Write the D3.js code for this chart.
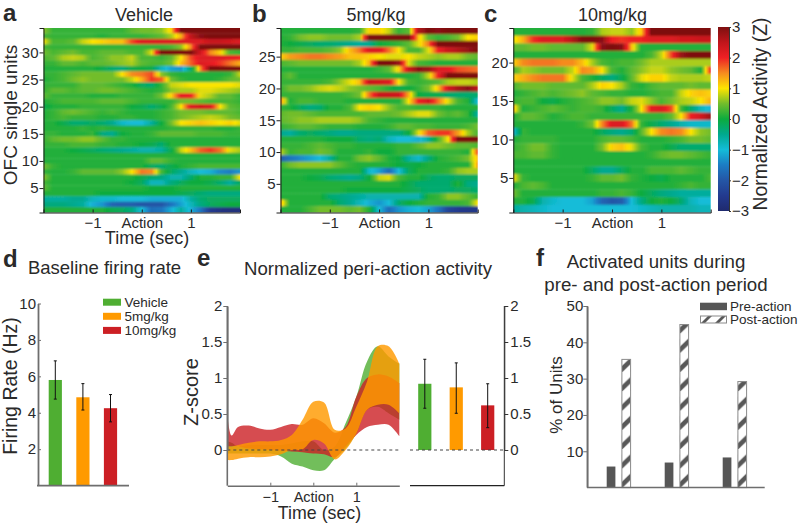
<!DOCTYPE html>
<html><head><meta charset="utf-8">
<script src="https://cdn.jsdelivr.net/npm/d3@7/dist/d3.min.js"></script>
<style>
html,body{margin:0;padding:0;background:#fff}
svg{display:block}
text{font-family:"Liberation Sans",Arial,sans-serif;fill:#2a2a2a}
</style></head><body>
<svg id="c" width="800" height="524"></svg>
<script>
// ---- Data ----
const heatTimes=[-2,-1.8,-1.6,-1.4,-1.2,-1,-0.8,-0.6,-0.4,-0.2,0,0.2,0.4,0.6,0.8,1,1.2,1.4,1.6,1.8,2];
// rows listed from the top unit down to unit 1
const vehicleRows=[
[0.6,0.2,0.2,0.2,0.2,0.2,0.2,0.2,0.2,0.4,0.5,0.5,0.6,1.1,3,3,3,3,3,3,3],
[0.3,0.2,0.2,0.2,0.2,0.2,0.1,0.2,0.2,0.2,0.2,0.3,0.4,0.7,1.3,2.5,2.9,3,3,3,3],
[1,0.3,0.3,0.4,0.8,1,1.1,1.2,1.2,1.8,2.2,2.2,2.2,2.2,2.2,2.2,2.2,2.4,2.4,2.3,2.2],
[0.3,0.2,0.2,0.2,0.2,0.2,0.2,0.2,0.2,0.2,0.2,0.2,0.2,0.3,0.6,1.5,3,3,3,3,3],
[0.5,0.3,0.4,0.5,0.3,0.3,0.4,0.4,0.4,0.3,0.3,0.9,3,3,3,3,2.3,1.5,1.1,0.3,0.2],
[0.3,0.4,0.7,0.8,0.7,0.3,0.4,0.6,0.6,0.8,0.3,0.3,0.2,0.4,1,1.8,2.2,2.2,2.2,2.1,2],
[0.2,0.2,0.4,0.4,0.3,0.4,0.4,0.5,0.6,0.7,0.4,0.3,0.3,0.5,1.2,1.7,2.2,2.1,1.9,1.6,1.3],
[0.1,0.1,0.1,0.1,0.1,0.1,-0.1,-0.3,-0.4,-0.1,0,-0.1,-0.8,-1.2,-1.3,-0.3,1.5,3,3,3,3],
[0.2,0.2,0.3,0.4,0.5,0.5,0.5,0.5,1,1.5,1.6,1.8,0.6,0.2,0.1,0.1,0.1,0.1,0.1,0.2,0.8],
[0.1,0.2,0.3,0.5,0.6,0.5,0.5,0.5,0.5,0.8,1.3,1.9,1.7,0.5,0.2,0.1,0.1,0.1,0.2,0.4,0.5],
[0.2,0.2,0.2,0.2,0.4,0.4,0.4,0.3,0.2,0.1,-0.2,-0.3,0.2,0.8,0.9,1,1,1,1,1,0.9],
[0.2,0.4,0.4,0.3,0.4,0.4,0.5,0.5,0.4,0.3,0.2,0.1,0.2,0.6,0.7,0.7,0.9,0.9,0.8,0.7,0.6],
[0.4,0.2,0.2,0.2,0.2,0.1,0.1,0.1,0.2,0.2,0.2,0.2,0.5,1.1,2.1,2,0.9,0.7,0.4,0.4,0.2],
[0.1,0.2,0.3,0.3,0.3,0.3,0.4,0.4,0.4,0.3,0.2,0.2,0.2,0.2,0.5,0.5,0.4,0.3,0.3,0.3,0.2],
[-0.1,0.1,0.1,0.1,0.2,0.2,0.2,0.2,0.2,0,-0.1,-0.3,-0.1,0.3,1,2.2,2.3,2.2,1,0.4,0.3],
[0.1,0.2,0.4,0.5,0.4,0.3,0.2,0.3,0.2,0.1,0.1,0.1,0.2,0.3,0.5,0.5,0.5,0.4,0.4,0.4,0.3],
[0.1,0.2,0.3,0.2,0.2,0.2,0.1,0.1,0.2,0.2,0.1,0.1,0.2,0.3,0.5,0.6,0.7,0.8,0.7,0.5,0.4],
[0.1,0.1,-0.1,-0.3,-0.3,-0.2,-0.3,-0.5,-0.9,-1,-1,-0.6,0,0.5,1,1.1,1.2,1.1,1,1.1,0.9],
[0.1,0.1,0.1,0.1,0.2,0.1,0.2,0.1,0.1,0.1,0.1,0.1,0.1,0.2,0.2,0.2,0.2,0.2,0.1,0.1,0.2],
[0.2,0.2,0.1,0.1,0.1,0.2,-0.4,-0.5,0,0.1,0.1,0.2,0.4,0.4,0.4,0.4,0.3,0.3,0.3,0.2,0.2],
[0.2,0.4,0.5,0.5,0.6,0.6,0.4,0.2,0.2,0.1,0.1,0.1,0.1,0.1,0.1,0.1,0.1,0.1,0.1,0.1,0.1],
[0.2,0.2,0.2,0.3,0.3,0.3,0.2,0.2,0.1,0.1,0,-0.1,-0.3,0.1,0.1,0.1,0.1,0.1,0.1,0.1,0.1],
[0.1,0.1,0.1,0,-0.1,-0.2,-0.3,-0.4,-0.5,-0.6,-0.7,-0.7,-0.6,-0.1,0.8,1.2,1.7,1.9,1.6,0.9,0.7],
[0.1,0.1,0.1,0.1,0.1,0.1,0.1,0.1,0.1,0.1,0.1,0.1,0.1,0.1,0.1,0.1,0.1,0.1,0.1,0.1,0.1],
[0.1,0.1,0.1,0.1,0.1,0.1,0.1,0.1,0.1,0.1,0.1,0.4,0.4,0.2,0.1,0.1,0.1,0.1,0.1,0.1,0.1],
[0.5,0.2,0.1,0.1,0.1,0.1,0.1,0.1,0.1,0.1,0.1,-0.2,-0.3,-0.1,0.1,0.2,0.3,0.3,0.3,0.3,0.3],
[0.2,0.1,0.1,0.2,0.4,0.4,0.4,0.4,0.6,1,1.6,1.5,0.3,-0.2,-0.5,-0.8,-1,-1.1,-1.4,-1.5,-1.3],
[0.6,0.1,0.1,0.1,0.1,0.1,0.1,0.1,0.1,0.1,-0.1,-0.3,-0.4,-0.7,-0.7,-0.3,0.1,0.1,0.2,0.2,1],
[0.3,0.1,0.1,0.1,0.1,0.1,0.1,0.1,0.1,0,-0.2,-0.8,-0.8,-0.4,-0.2,0,0,-0.1,-0.3,-0.6,-0.2],
[0.4,0.1,0.1,0.1,0.1,0.1,0.1,0.1,0.1,0.1,0.1,0,0,0,0.1,0.1,0.1,0.1,0.1,0.1,0.1],
[0.1,0.1,0.1,0.1,0.1,0.1,0,0,0,0,0,0,0,0,-0.1,-0.2,-0.3,-0.4,-0.4,-0.4,-0.4],
[-0.6,-0.6,-0.6,-0.5,-0.5,-0.8,-0.9,-0.9,-1,-1,-1,-1.1,-1.1,-1.1,-1.1,-0.6,-0.3,-0.2,-0.2,-0.2,-0.2],
[-0.4,-0.4,-0.4,-0.5,-0.6,-1.1,-1.3,-1.8,-1.9,-1.9,-2,-2,-2,-1.6,-1.2,-0.8,-0.4,-0.2,-0.1,0,0],
[0.1,0.1,0.1,0.1,0.1,0.1,0.1,-0.1,-0.2,-0.4,-1,-1.7,-1.6,-1.1,-0.6,-1.1,-1.6,-2.5,-2.7,-2.8,-2.8]
];
const lowDoseRows=[
[0.1,0.1,0.1,0.1,0.1,0.1,0.1,0.1,0.2,1.1,1.1,0.8,0.2,0.4,2.6,3,2.9,3,3,3,3],
[0.1,0.2,0.5,0.6,0.6,0.5,0.5,0.5,0.7,3,3,3,3,3,1.2,0.4,0.2,0.3,0.5,1,1.1],
[0.1,0,-0.1,-0.2,-0.3,-0.3,-0.4,-0.5,-0.6,-0.5,0,0.1,0.2,0.4,0.9,1.6,3,3,3,3,3],
[0.2,0.2,0.3,0.3,0.3,0.4,0.6,1.2,1.6,2.2,2.2,1.6,1,0.3,0.3,0.9,2,2.4,2.6,2.8,3],
[1.1,1.4,1.5,1.6,1.6,1.5,1.4,1.2,1.2,1.1,1,0.9,0.9,1,0.8,0.7,0.6,0.7,0.7,0.5,0.4],
[0.3,0.4,0.5,0.5,0.5,0.5,0.5,0.5,0.7,1.3,3,3,2.8,0.9,0.3,0.2,0.1,0.1,0.1,0.1,0.1],
[0.1,0.1,0.1,0.1,0.1,0.1,0.1,0.1,0.1,0.1,0.2,0.4,1.1,2.4,2.9,2.8,2.2,2.1,1.8,1.7,1.6],
[0.2,0.4,0.1,0.1,0.1,0.1,0.1,0.1,0.1,0.1,0.1,0.1,0.1,0.1,0.2,0.8,2,3,3,3,3],
[0.2,0.2,0.2,0.2,0.2,0.3,0.6,0.9,1.2,2.4,2.3,2.2,1,0.3,0.2,0.3,0.4,0.7,0.8,0.8,0.7],
[0.2,0.5,0.5,0.6,0.8,0.9,0.8,0.6,0.5,0.4,0.3,0.1,-0.1,0,0.2,0.5,1.2,2.3,2.7,2.9,2.5],
[0.2,0.2,0.2,0.2,0.2,0.2,0.2,0.3,0.5,1.6,2.4,2.4,2.3,1.3,0,-0.1,-0.1,-0.3,-0.3,-0.3,-0.3],
[1.5,0.1,0.3,0.3,0.2,0.2,0.2,0.1,0.1,0.1,0.1,0.1,0.1,1,2,2.3,1.6,0.9,0.3,0.1,-1],
[0.2,0.1,-0.2,-0.4,-0.3,0.1,0.1,0.3,1,1.1,1,0.6,0.3,0.3,0.2,0.2,0.2,0.1,0.1,0.1,0.1],
[0.4,0.5,0.5,0.4,0.3,0.3,0.3,0.3,0.3,0.4,0.4,0.4,0.5,0.7,0.9,0.9,0.5,0.3,0.4,0.2,-0.6],
[0.4,0.5,0.6,0.6,0.7,0.7,0.7,0.7,0.6,0.3,0.2,0.1,0.1,0.1,0.1,0.1,0.1,0.1,0.1,0.1,0.1],
[0.2,0.3,0.4,0.4,0.3,0.2,0.2,0.2,0.1,0.1,0.1,0.2,0.4,0.4,0.3,0.3,0.2,0.2,0.2,0.3,0.5],
[-0.5,-0.6,-0.3,-0.2,-0.3,-0.4,-0.5,-0.5,-0.4,-0.4,-0.4,-0.4,-0.4,0,0.9,1.7,1.9,1.9,1.4,0.7,0.3],
[0.1,0.1,0.1,0.1,0.1,0,0,0,-0.3,-0.4,-0.3,-0.8,-1,-1,-1.1,-0.6,0.3,1,3,3,3],
[0.2,0.2,0.2,0.3,0.4,0.3,0.2,0.2,0.1,0.1,0.1,0.1,0.2,0.2,0.4,0.6,0.6,0.5,0.4,0.4,0.3],
[0.8,0.2,0.3,0.3,0.5,0.4,0.1,0.1,0.1,0.2,0,0,0.2,0.2,0.2,0.2,0.2,0.2,0.2,0.1,1.8],
[-1.9,-1.6,-1.4,-1.2,-1,-0.6,0.1,0.1,0.5,0.6,0.4,0.1,0,-0.6,-0.9,-0.4,0.1,0.2,0.3,0.5,1.2],
[0.2,0.5,0.6,0.6,0.6,0.6,0.4,0.2,0.1,0.1,0.1,0.1,0,-0.1,0,0.1,0.1,0.1,0.1,0.1,1.4],
[0.1,0.1,0.1,0.1,0.1,0.1,0.1,0.1,0.1,-0.9,-1.2,-1.7,-1,-0.2,0.1,0.1,0.1,0.2,0.6,0.7,0.7],
[0.1,0.1,0.1,0,-0.1,-0.3,-0.4,-0.5,-0.4,0,0.8,0.9,0.3,0.1,0.1,-0.2,-0.3,-0.3,-0.2,-0.2,-0.2],
[0.1,0.1,0.1,0.1,0.1,0.1,0.1,0.1,0.1,0.1,0.1,0.1,0.1,-0.1,-0.3,-0.3,-0.3,-0.3,0.1,-0.4,-0.5],
[0.1,0.1,0.1,0.1,0.1,0.1,0.1,0,0,0,0,0,0,-0.1,-0.2,-0.3,-0.3,-0.3,-0.2,-0.2,-0.3],
[0.1,0.1,0.1,0.1,0.1,-0.3,-0.4,-0.5,-0.6,-0.7,-0.7,-0.7,-0.7,-0.7,-0.7,0.1,0.2,0.6,0.6,0.4,0.2],
[1.3,0.1,0.1,0.1,0.1,0.1,-0.3,-0.5,-0.8,-1.1,-1.3,-1,-0.3,0,0.1,0.2,0.2,0.2,0.2,0.3,1],
[0.1,0.1,0.1,0.3,0.5,0.5,0.5,0.4,0.5,0.1,-1,-1.7,-1.3,-1.1,-1,-1.2,-1.6,-2.3,-2.5,-2.6,-2.6]
];
const highDoseRows=[
[0.1,0.1,0.1,0.1,0.1,0.1,0.1,0.1,0.2,0.7,0.8,0.8,0.6,1.2,3,3,3,3,3,3,3],
[0.9,1.3,1.9,2.2,2.2,2.2,2.6,3,3,2.9,2,1.9,2,2,2.2,2.2,2.2,2.3,2.3,2.4,2.4],
[0.4,0.4,0.5,0.5,0.4,0.4,0.4,0.4,0.9,2.9,3,2.9,1.2,0.1,0.1,0.1,0.1,0.1,0.1,0.1,0.1],
[0.1,0.1,0.1,0.1,0.1,0.1,0.1,0.1,0.1,0.1,0.1,0.1,0.1,0.1,0.3,0.8,1.8,2.8,3,3,3],
[1.1,1.5,1.6,1.6,1.6,1.5,1.5,1.2,0.7,0.3,0.2,0.3,0.3,0.5,0.7,0.7,0.7,0.7,0.7,0.7,0.7],
[0.3,0.7,0.6,0.5,0.5,0.5,0.8,1.5,1.4,1,0.3,0.1,0.4,0.6,0.8,0.8,0.6,0.5,0.4,0.1,2],
[1.1,1.3,1.5,1.6,1.6,1.6,0.9,0.3,0.1,-0.2,-0.4,-0.1,0.4,0.9,1.1,1.1,0.8,0.7,0.7,0.7,0.8],
[0.3,0.5,0.5,0.5,0.4,0.4,0.4,0.4,0.7,1.1,1,0.7,0.2,0.1,0.3,0.4,0.4,0.4,0.5,0.4,0.4],
[0.1,0.2,0.3,0.4,0.3,0.4,0.5,0.6,0.4,0.3,0.2,0.2,0.1,0.1,0.2,0.3,0.3,0.8,1.1,1.2,1.1],
[0.2,0.3,0.3,0,-0.1,0.1,0.2,0.3,0.4,0.6,0.6,0.5,0.8,0.9,0.6,0.3,0.5,0.7,0.8,1,1.3],
[1.2,0.1,0.2,0.3,0.4,0.3,0.2,0.3,0.3,0.2,-0.2,-0.5,0.1,1,2.1,2.2,1.8,0.3,-0.3,-0.8,-1.1],
[0.1,0.4,0.4,0.3,0.1,0.2,0.3,0.3,0.2,0.2,0.2,0.2,0.2,0.2,0.2,0.2,0.4,1,2,2.3,2.8],
[0.1,0.1,0.1,0.1,0.1,0.1,0.1,0.2,0.5,1.5,2.2,2.2,1.6,0.2,-0.1,-0.3,-0.5,-0.7,-0.9,-0.9,-0.9],
[-1,0.2,0.1,0.1,0.1,0.1,0.1,0.1,0.1,-0.2,-0.4,-0.5,-0.3,0.4,1,1.5,1.6,1.5,1,0.6,0.5],
[0.1,0.2,0.2,0.2,0.2,0.1,0.1,0.1,0.1,0.3,0.4,0.4,0.3,0.1,0.1,0.1,0.2,0.3,0.5,0.5,0.4],
[0.2,0.3,0.5,0.5,0.2,0.1,0.1,0.1,0.1,0.5,1.1,1.2,0.9,0.3,0.1,0.1,-0.1,-0.3,-0.3,-0.3,-0.3],
[0.3,0.3,0.4,0.4,0.2,0.1,0.1,0.1,0.1,0.1,0.1,0.1,0.1,0.1,0.2,0.4,0.5,0.5,0.4,0.3,0.2],
[0.1,0.1,0.1,0.1,0.1,0.1,0.1,0.1,0.1,0.1,0.1,0.1,0.1,0.1,0.1,0.1,0.1,0.1,0.1,0.1,0.1],
[0.1,0.1,0.1,0.1,0.1,0.1,0.1,0.1,-0.2,-0.5,-0.5,-0.2,0.1,0.1,0.3,0.3,0.3,0.4,0.3,0.2,0.2],
[1,0.2,0.1,0.1,0.1,0.1,0.1,0.1,0.2,0.4,0.4,0.5,0.2,0.1,0,-0.1,0.1,0.1,0.1,0.1,0.3],
[0.1,0.3,0.4,0.3,0.1,0.1,0.1,0.1,0.1,0.1,0.1,0.1,0.1,0.1,0.1,0.1,0.1,0.2,0.3,0.2,0.2],
[0.5,0.1,0.1,0.1,0.1,0.1,0.1,0.1,0.1,0.2,0.2,0.3,0.2,0,-0.2,-0.4,-0.5,-0.6,-0.6,-0.6,-0.6],
[0.1,0.1,-0.1,-0.7,-0.9,-1,-1,-1,-1.2,-1.8,-2,-1.9,-1,-0.4,0,0.1,0,-0.3,-0.8,-1,-1],
[-0.6,-0.7,-0.8,-0.9,-1,-1,-1,-1,-1,-1,-1,-1,-1,-0.9,-0.8,-0.7,-0.7,-0.7,-0.7,-0.8,-0.8]
];
const colorStops=[-3,-2.5,-2,-1.5,-1,-0.5,0,0.5,1,1.5,2,2.5,3];
const colorValues=["#1f2a6e","#233a8f","#2456a6","#1c7cc4","#14bcd8","#00a98e","#0cab3e","#72bd2c","#fde400","#f68b1f","#ee2024","#c0151b","#7d1010"];
const groupNames=["Vehicle","5mg/kg","10mg/kg"];
const groupColors=["#4fae32","#ff9a00","#cc1f24"];
const firingRate=[5.8,4.85,4.25];
const firingHigh=[6.85,5.6,5.0];
const firingLow=[4.75,4.15,3.5];
const bandTimes=[-2,-1.9,-1.75,-1.5,-1.25,-1,-0.75,-0.5,-0.25,0,0.25,0.5,0.75,1,1.25,1.5,1.75,2];
const greenUpper=[0.12,0.1,0.05,0.07,0.07,0.07,0.07,0.09,0.12,0.12,0,0.05,0.37,0.74,1.23,1.44,1.30,1.20];
const greenLower=[-0.05,-0.05,-0.05,-0.05,-0.05,-0.05,-0.09,-0.19,-0.23,-0.28,-0.28,-0.12,0.02,0.23,0.56,0.6,0.51,0.42];
const redUpper=[0.5,0.2,0.32,0.34,0.30,0.28,0.32,0.36,0.35,0.44,0.37,0.24,0.32,0.74,1.0,1.05,1.02,0.93];
const redLower=[0.05,0.05,0.05,0.02,0.01,0,-0.01,-0.02,-0.03,-0.05,-0.06,-0.10,0.05,0.21,0.32,0.35,0.35,0.19];
const orangeUpper=[0.05,0.05,0.07,0.10,0.12,0.12,0.14,0.21,0.42,0.67,0.66,0.28,0.30,0.60,0.95,1.44,1.44,1.20];
const orangeLower=[-0.14,-0.14,-0.12,-0.10,-0.10,-0.09,-0.06,0,0.01,0.14,0.09,-0.13,0,0.23,0.56,0.63,0.63,0.51];
const periAction=[0.92,0.87,0.62];
const periHigh=[1.26,1.21,0.92];
const periLow=[0.58,0.51,0.31];
const unitGroups=["Vehicle","5mg/kg","10mg/kg"];
const preAction=[5.8,6.9,8.3];
const postAction=[35.3,44.9,29.2];

// ---- Drawing ----
const svg=d3.select("#c");
const defs=svg.append("defs");
const MINUS="\u2212";
const INK="#2a2a2a", GREY="#6e6e6e";
const colorScale=d3.scaleLinear().domain(colorStops).range(colorValues).clamp(true);
const txt=(x,y,s,size,opts={})=>{
  const t=svg.append("text").attr("x",x).attr("y",y).attr("font-size",size).text(s);
  if(opts.anchor)t.attr("text-anchor",opts.anchor);
  if(opts.weight)t.attr("font-weight",opts.weight);
  if(opts.rot!==undefined)t.attr("transform",`rotate(${opts.rot} ${x} ${y})`);
  return t;
};
const fmtTime=d=>d===0?"Action":String(d).replace("-",MINUS);

defs.append("filter").attr("id","soft").attr("x","-2%").attr("y","-2%").attr("width","104%").attr("height","104%")
  .append("feGaussianBlur").attr("stdDeviation","0.6 0.9");

function heatmap(id,rows,x0,x1,y0,y1,yTicks){
  const n=rows.length;
  const x=d3.scaleLinear().domain([-2,2]).range([x0,x1]);
  const y=d3.scaleLinear().domain([0.5,n+0.5]).range([y1,y0]);
  const clip="clip"+id;
  defs.append("clipPath").attr("id",clip).append("rect").attr("x",x0).attr("y",y0).attr("width",x1-x0).attr("height",y1-y0);
  const g=svg.append("g").attr("clip-path",`url(#${clip})`).append("g").attr("filter","url(#soft)");
  rows.forEach((vals,i)=>{
    const unit=n-i;
    const rowScale=d3.scaleLinear().domain(heatTimes).range(vals);
    const grad=defs.append("linearGradient").attr("id",`${id}r${unit}`).attr("gradientUnits","userSpaceOnUse")
      .attr("x1",x0).attr("x2",x1).attr("y1",0).attr("y2",0);
    d3.range(0,81).forEach(k=>{
      const f=k/80, t=x.invert(x0+f*(x1-x0));
      grad.append("stop").attr("offset",f).attr("stop-color",colorScale(rowScale(t)));
    });
    g.append("rect").attr("x",x0-3).attr("width",x1-x0+6)
      .attr("y",y(unit+0.5)-(i===0?3:0)).attr("height",y(unit-0.5)-y(unit+0.5)+0.3+(i===0||i===n-1?3:0))
      .attr("fill",`url(#${id}r${unit})`);
  });
  const ax=svg.append("g").attr("transform",`translate(0,${y1})`)
    .call(d3.axisBottom(x).tickValues([-1,0,1]).tickSize(-3).tickPadding(7).tickFormat(fmtTime));
  const ay=svg.append("g").attr("transform",`translate(${x0},0)`)
    .call(d3.axisLeft(y).tickValues(yTicks).tickSize(4).tickPadding(1));
  [ax,ay].forEach(a=>{
    a.select(".domain").attr("stroke","#1c1c1c").attr("stroke-width",1);
    a.selectAll(".tick line").attr("stroke","#1c1c1c");
    a.selectAll("text").attr("font-size",15).attr("font-family",'"Liberation Sans"').attr("fill",INK);
  });
  ax.selectAll("text").attr("y",4.5);
}
heatmap("a",vehicleRows,43.5,240,28,212.5,[5,10,15,20,25,30]);
heatmap("b",lowDoseRows,280.5,477.7,28,212.5,[5,10,15,20,25]);
heatmap("c",highDoseRows,513.3,710.7,28,212.5,[5,10,15,20]);

// colorbar
{
  const y=d3.scaleLinear().domain([-3,3]).range([211,27]);
  const grad=defs.append("linearGradient").attr("id","cb").attr("x1",0).attr("x2",0).attr("y1",1).attr("y2",0);
  colorStops.forEach((v,i)=>grad.append("stop").attr("offset",i/(colorStops.length-1)).attr("stop-color",colorScale(v)));
  svg.append("rect").attr("x",718).attr("y",27).attr("width",11).attr("height",184).attr("fill","url(#cb)");
  const a=svg.append("g").attr("transform","translate(729,0)")
    .call(d3.axisRight(y).tickValues([-3,-2,-1,0,1,2,3]).tickSize(2).tickPadding(1).tickFormat(d=>String(d).replace("-",MINUS)));
  a.select(".domain").attr("stroke","#333");
  a.selectAll(".tick line").attr("stroke","#333");
  a.selectAll("text").attr("font-size",15).attr("font-family",'"Liberation Sans"').attr("fill",INK);
}

// panel titles & labels
txt(3,21,"a",24,{weight:"bold"});
txt(252,22,"b",24,{weight:"bold"});
txt(484,22,"c",24,{weight:"bold"});
txt(3,267,"d",24,{weight:"bold"});
txt(197,266,"e",24,{weight:"bold"});
txt(536,266,"f",24,{weight:"bold"});
txt(144,20.5,"Vehicle",18,{anchor:"middle"});
txt(376,20.5,"5mg/kg",18,{anchor:"middle"});
txt(612.5,20.5,"10mg/kg",18,{anchor:"middle"});
txt(147,244,"Time (sec)",18,{anchor:"middle"});
txt(16.5,115,"OFC single units",19,{anchor:"middle",rot:-90});
txt(767,114,"Normalized Activity (Z)",19.3,{anchor:"middle",rot:-90});
txt(104.5,274,"Baseline firing rate",18.5,{anchor:"middle"});
txt(368,275,"Normalized peri-action activity",18.6,{anchor:"middle"});
txt(656,268,"Activated units during",18.7,{anchor:"middle"});
txt(656,291,"pre- and post-action period",18.7,{anchor:"middle"});
txt(17,386,"Firing Rate (Hz)",19.5,{anchor:"middle",rot:-90});
txt(198,392,"Z-score",20,{anchor:"middle",rot:-90});
txt(319.5,519,"Time (sec)",17.8,{anchor:"middle"});
txt(561.5,395,"% of Units",17,{anchor:"middle",rot:-90});

function styleAxis(a,color,w,size){
  a.select(".domain").attr("stroke",color).attr("stroke-width",w);
  a.selectAll(".tick line").attr("stroke",color).attr("stroke-width",1);
  a.selectAll("text").attr("font-size",size).attr("font-family",'"Liberation Sans"').attr("fill",INK);
}

// panel d
{
  const y=d3.scaleLinear().domain([0,10]).range([485.6,303.5]);
  const x=d3.scalePoint().domain(groupNames).range([55.3,110.5]);
  groupNames.forEach((g,i)=>{
    const px=x(g);
    svg.append("rect").attr("x",px-6.6).attr("width",13.2).attr("y",y(firingRate[i])).attr("height",y(0)-y(firingRate[i])).attr("fill",groupColors[i]);
    svg.append("line").attr("x1",px).attr("x2",px).attr("y1",y(firingHigh[i])).attr("y2",y(firingLow[i])).attr("stroke","#111");
    [firingHigh[i],firingLow[i]].forEach(v=>svg.append("line").attr("x1",px-1.5).attr("x2",px+1.5).attr("y1",y(v)).attr("y2",y(v)).attr("stroke","#111"));
    svg.append("rect").attr("x",103).attr("y",298.7+14.1*i).attr("width",18).attr("height",7).attr("fill",groupColors[i]);
    txt(124.5,307+14*i,g,13.5);
  });
  const a=svg.append("g").attr("transform","translate(38,0)")
    .call(d3.axisLeft(y).tickValues([2,4,6,8,10]).tickSize(-3).tickPadding(2).tickSizeOuter(0));
  styleAxis(a,GREY,1.8,15);
  svg.append("line").attr("x1",37).attr("x2",129).attr("y1",y(0)).attr("y2",y(0)).attr("stroke",GREY).attr("stroke-width",1.6);
}

// panel e
{
  const y=d3.scaleLinear().domain([0,2]).range([450,306]);
  const x=d3.scaleLinear().domain([-2,2]).range([227.3,399.3]);
  const yBottom=485.7;
  const series=[[greenUpper,greenLower,groupColors[0],0.8],[redUpper,redLower,groupColors[2],0.8],[orangeUpper,orangeLower,groupColors[1],0.82]];
  const area=(u,l)=>d3.area().x((d,i)=>x(bandTimes[i])).y0((d,i)=>y(l[i])).y1((d,i)=>y(u[i])).curve(d3.curveCatmullRom.alpha(0.5))(bandTimes);
  series.forEach(([u,l,c,o])=>svg.append("path").attr("d",area(u,l)).attr("fill",c).attr("fill-opacity",o));
  svg.append("line").attr("x1",x(-2)).attr("x2",x(2)).attr("y1",y(0)).attr("y2",y(0)).attr("stroke","#444").attr("stroke-width",1).attr("stroke-dasharray","3 3");
  const la=svg.append("g").attr("transform","translate(227.3,0)")
    .call(d3.axisLeft(y).tickValues([0,0.5,1,1.5,2]).tickSize(4).tickPadding(1).tickSizeOuter(0).tickFormat(d3.format("~g")));
  styleAxis(la,GREY,1.6,15);
  svg.append("line").attr("x1",227.3).attr("x2",227.3).attr("y1",306).attr("y2",yBottom).attr("stroke",GREY).attr("stroke-width",1.6);
  const ba=svg.append("g").attr("transform",`translate(0,${yBottom})`)
    .call(d3.axisBottom(x).tickValues([-1,0,1]).tickSize(-3).tickPadding(5).tickSizeOuter(0).tickFormat(fmtTime));
  styleAxis(ba,GREY,1.6,14.5);
  ba.selectAll("text").attr("y",5.7);

  const bx=d3.scalePoint().domain(groupNames).range([424.8,487.7]);
  svg.append("line").attr("x1",410).attr("x2",504.3).attr("y1",yBottom).attr("y2",yBottom).attr("stroke","#222").attr("stroke-width",1.2);
  groupNames.forEach((g,i)=>{
    const px=bx(g);
    svg.append("rect").attr("x",px-6.6).attr("width",13.2).attr("y",y(periAction[i])).attr("height",y(0)-y(periAction[i])).attr("fill",groupColors[i]);
    svg.append("line").attr("x1",px).attr("x2",px).attr("y1",y(periHigh[i])).attr("y2",y(periLow[i])).attr("stroke","#111");
    [periHigh[i],periLow[i]].forEach(v=>svg.append("line").attr("x1",px-1.5).attr("x2",px+1.5).attr("y1",y(v)).attr("y2",y(v)).attr("stroke","#111"));
  });
  svg.append("line").attr("x1",410).attr("x2",504).attr("y1",y(0)).attr("y2",y(0)).attr("stroke","#444").attr("stroke-width",1).attr("stroke-dasharray","3 3");
  const ra=svg.append("g").attr("transform","translate(504.3,0)")
    .call(d3.axisRight(y).tickValues([0,0.5,1,1.5,2]).tickSize(4).tickPadding(2).tickSizeOuter(0).tickFormat(d3.format("~g")));
  styleAxis(ra,"#333",1,15);
  svg.append("line").attr("x1",504.3).attr("x2",504.3).attr("y1",306).attr("y2",yBottom).attr("stroke","#333");
}

// panel f
{
  const y=d3.scaleLinear().domain([0,50]).range([487.6,306]);
  const x=d3.scalePoint().domain(unitGroups).range([618.7,734.7]);
  const bw=8.7;
  unitGroups.forEach((g,i)=>{
    const px=x(g);
    const left=px+3.2;
    const pat=defs.append("pattern").attr("id","hatch"+i).attr("patternUnits","userSpaceOnUse")
      .attr("width",bw).attr("height",19.3).attr("patternTransform",`translate(${left},${y(0)-19.3})`);
    pat.append("rect").attr("width",bw).attr("height",19.3).attr("fill","#fff");
    pat.append("path").attr("d",`M0,13.5 L${bw},5 L${bw},11.5 L0,20 Z`).attr("fill","#585858");
    svg.append("rect").attr("x",px-12).attr("width",bw).attr("y",y(preAction[i])).attr("height",y(0)-y(preAction[i])).attr("fill","#565656");
    svg.append("rect").attr("x",left).attr("width",bw).attr("y",y(postAction[i])).attr("height",y(0)-y(postAction[i]))
      .attr("fill",`url(#hatch${i})`).attr("stroke","#8a8a8a").attr("stroke-width",1);
  });
  const pat2=defs.append("pattern").attr("id","hatchKey").attr("patternUnits","userSpaceOnUse")
    .attr("width",14).attr("height",7).attr("patternTransform","translate(700,316)");
  pat2.append("rect").attr("width",14).attr("height",7).attr("fill","#fff");
  pat2.append("path").attr("d","M1,7 L8,0 L12,0 L5,7 Z").attr("fill","#585858");
  const a=svg.append("g").attr("transform","translate(587.3,0)")
    .call(d3.axisLeft(y).tickValues([10,20,30,40,50]).tickSize(4).tickPadding(0).tickSizeOuter(0));
  styleAxis(a,GREY,1.5,15);
  svg.append("line").attr("x1",587.3).attr("x2",587.3).attr("y1",306).attr("y2",487.6).attr("stroke",GREY).attr("stroke-width",1.5);
  svg.append("line").attr("x1",587).attr("x2",764.7).attr("y1",487.6).attr("y2",487.6).attr("stroke",GREY).attr("stroke-width",1.5);
  svg.append("rect").attr("x",700).attr("y",302.7).attr("width",27).attr("height",7.5).attr("fill","#565656");
  svg.append("rect").attr("x",700.5).attr("y",316).attr("width",26).attr("height",7).attr("fill","url(#hatchKey)").attr("stroke","#8a8a8a");
  txt(730,310.5,"Pre-action",13.5);
  txt(730,324,"Post-action",13.5);
}
</script>
</body></html>
